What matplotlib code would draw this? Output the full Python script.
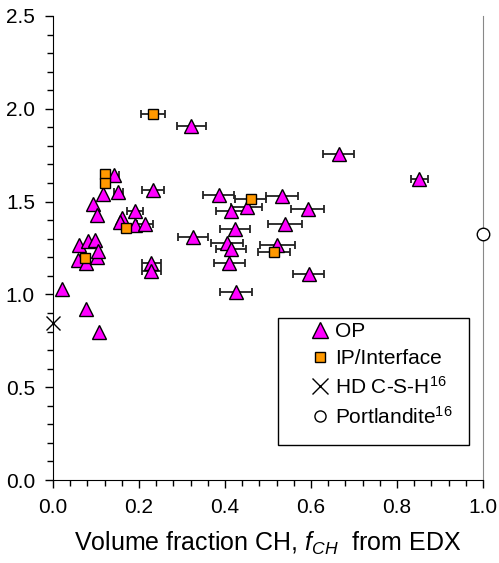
import matplotlib; matplotlib.use('Agg')
import matplotlib.pyplot as plt
from matplotlib.lines import Line2D
from matplotlib.patches import Rectangle
from matplotlib.ticker import MultipleLocator, FormatStrFormatter

plt.rcParams['font.family'] = ['Liberation Sans', 'DejaVu Sans']
plt.rcParams['mathtext.fontset'] = 'custom'
plt.rcParams['mathtext.rm'] = 'Liberation Sans'
plt.rcParams['mathtext.it'] = 'Liberation Sans:italic'

# OP points: f_CH, y value, x error (0 = no bar)
op_x = [0.020, 0.076, 0.107, 0.059, 0.076, 0.102, 0.060, 0.082, 0.098, 0.104,
        0.094, 0.102, 0.117, 0.143, 0.152, 0.160, 0.156, 0.191, 0.191, 0.214,
        0.233, 0.228, 0.228, 0.322, 0.326, 0.385, 0.415, 0.450, 0.423, 0.405,
        0.415, 0.410, 0.426, 0.533, 0.592, 0.540, 0.522, 0.595, 0.664, 0.852]
op_y = [1.03, 0.92, 0.80, 1.185, 1.167, 1.203, 1.266, 1.29, 1.293, 1.236,
        1.487, 1.428, 1.541, 1.643, 1.553, 1.413, 1.392, 1.451, 1.374, 1.379,
        1.563, 1.168, 1.128, 1.907, 1.308, 1.536, 1.451, 1.469, 1.351, 1.279,
        1.243, 1.168, 1.015, 1.530, 1.459, 1.379, 1.266, 1.110, 1.756, 1.622]
op_err = [0, 0, 0, 0, 0, 0, 0, 0, 0, 0,
          0, 0, 0, 0.010, 0.011, 0, 0, 0.018, 0, 0.018,
          0.026, 0.022, 0.022, 0.033, 0.035, 0.036, 0.035, 0.036, 0.035, 0.037,
          0.035, 0.036, 0.037, 0.037, 0.038, 0.040, 0.040, 0.036, 0.035, 0.020]

# IP/Interface points
ip_x = [0.232, 0.121, 0.121, 0.170, 0.074, 0.460, 0.514]
ip_y = [1.972, 1.649, 1.602, 1.356, 1.194, 1.514, 1.227]
ip_err = [0.028, 0, 0, 0, 0, 0.036, 0.038]

hd_x, hd_y = [0.0], [0.844]
port_x, port_y = [1.0], [1.325]

W, H = 499, 563
fig = plt.figure(figsize=(W/100, H/100), dpi=100)
ax = fig.add_axes([53/W, 1-480/H, 430/W, 464/H])

ebk = dict(fmt='none', ecolor='#222222', elinewidth=1.3, capsize=3.2, capthick=1.3, zorder=2)
for xs, ys, es in [(op_x, op_y, op_err), (ip_x, ip_y, ip_err)]:
    bx = [x for x, e in zip(xs, es) if e > 0]
    by = [y for y, e in zip(ys, es) if e > 0]
    be = [e for e in es if e > 0]
    ax.errorbar(bx, by, xerr=be, **ebk)

ax.plot(op_x, op_y, '^', ms=9.5, mfc='#FF00FF', mec='black', mew=1.0, ls='none', zorder=3)
ax.plot(ip_x, ip_y, 's', ms=6.8, mfc='#FF9900', mec='black', mew=1.0, ls='none', zorder=4)
ax.plot(hd_x, hd_y, 'x', ms=9.5, mec='black', mew=1.0, ls='none', zorder=5, clip_on=False)
ax.plot(port_x, port_y, 'o', ms=9, mfc='white', mec='black', mew=1.0, ls='none', zorder=5, clip_on=False)

ax.set_xlim(0, 1.0)
ax.set_ylim(0, 2.5)
ax.xaxis.set_major_locator(MultipleLocator(0.2))
ax.xaxis.set_minor_locator(MultipleLocator(0.04))
ax.yaxis.set_major_locator(MultipleLocator(0.5))
ax.yaxis.set_minor_locator(MultipleLocator(0.1))
ax.xaxis.set_major_formatter(FormatStrFormatter('%.1f'))
ax.yaxis.set_major_formatter(FormatStrFormatter('%.1f'))
ax.tick_params(which='major', direction='out', length=6, width=1, labelsize=15)
ax.tick_params(which='minor', direction='out', length=4, width=1)
ax.tick_params(axis='x', which='major', pad=7)
ax.tick_params(axis='y', which='major', pad=7)
ax.spines['top'].set_visible(False)
ax.spines['right'].set_color('#888888')

ax.set_xlabel(r'Volume fraction CH, $f_{CH}$  from EDX', fontsize=18, labelpad=9)

# legend frame drawn separately so its size matches the original box
fig.patches.append(Rectangle((278/W, 1-445/H), 191/W, 127/H, transform=fig.transFigure,
                             facecolor='white', edgecolor='black', lw=1.0, zorder=6))
handles = [
    Line2D([], [], marker='^', ls='none', ms=11, mfc='#FF00FF', mec='black', mew=1.0),
    Line2D([], [], marker='s', ls='none', ms=7.5, mfc='#FF9900', mec='black', mew=1.0),
    Line2D([], [], marker='x', ls='none', ms=11, mec='black', mew=1.0),
    Line2D([], [], marker='o', ls='none', ms=8, mfc='white', mec='black', mew=1.0),
]
labels = ['OP', 'IP/Interface', r'HD C-S-H$^{16}$', r'Portlandite$^{16}$']
leg = fig.legend(handles, labels, loc='upper left', bbox_to_anchor=(310/W, 1-322/H),
                 fontsize=15, frameon=False, handlelength=1.0, handletextpad=0.2,
                 labelspacing=0.38, borderpad=0, borderaxespad=0)
leg.set_zorder(7)

fig.savefig('out.png', dpi=100)
